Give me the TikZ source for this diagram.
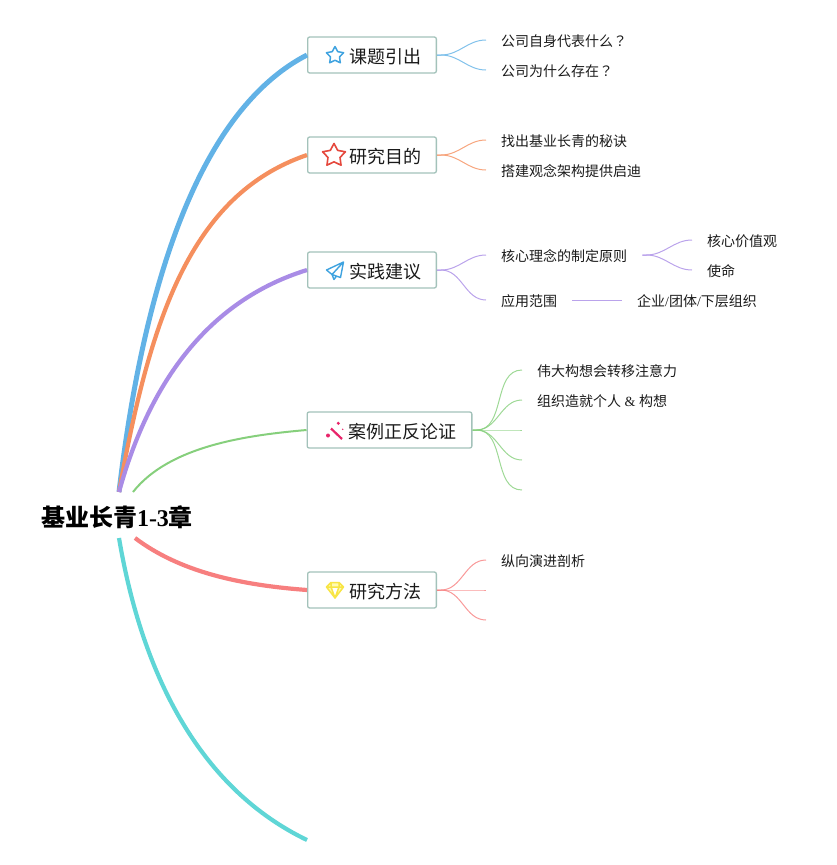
\documentclass[tikz,border=0pt]{standalone}
\usepackage{fontspec}
\setmainfont{Liberation Serif}
\newfontfamily\cjk{Noto Sans CJK SC}
\newfontfamily\cjkmark{Noto Sans CJK TC}
\usetikzlibrary{shapes.geometric}
\definecolor{blueline}{HTML}{62B2E6}
\definecolor{orangeline}{HTML}{F58F5E}
\definecolor{purpleline}{HTML}{A98CE6}
\definecolor{greenline}{HTML}{86CF7C}
\definecolor{redline}{HTML}{F77F7F}
\definecolor{tealline}{HTML}{5FD6D6}
\definecolor{boxline}{HTML}{A3C2BA}
\definecolor{inkcolor}{HTML}{1A1A1A}
\definecolor{iconblue}{HTML}{3FA3E0}
\definecolor{iconred}{HTML}{E5483D}
\definecolor{iconpink}{HTML}{E8256B}
\definecolor{iconyellow}{HTML}{F8E545}
\def\iconspace{26pt}
\tikzset{topicbox/.style={draw=boxline, line width=1.3pt, rounded corners=2pt, fill=white,
    minimum height=36pt, inner xsep=15.35pt, inner ysep=0pt, text=inkcolor,
    text height=20pt, text depth=2.4pt,
    font=\cjk\fontsize{18}{20}\selectfont}}
\tikzset{leafnode/.style={anchor=west, inner xsep=15pt, inner ysep=2pt, text=inkcolor,
    text height=14.6pt, text depth=2pt,
    font=\cjk\fontsize{14}{17}\selectfont}}
\tikzset{mainlink/.style={line width=4.2pt}}
\tikzset{sublink/.style={line width=1pt, opacity=0.8}}
\tikzset{iconstar/.style={star, star points=5, star point ratio=1.9, draw, inner sep=0pt, fill=white, line join=round}}

\begin{document}
\begin{tikzpicture}[x=1pt,y=-1pt]

\path[use as bounding box] (0,0) rectangle (837,865);

\node [inner sep=0pt, font=\bfseries\fontsize{24}{28}\selectfont] (root) at (117,517) {{\cjk 基业长青}1-3{\cjk 章}};
\coordinate (root_top) at (119,492);
\coordinate (root_right) at (133,492);
\coordinate (root_low) at (135,538);
\coordinate (root_bottom) at (119,538);
\coordinate (end_teal) at (307,840);

\node [topicbox] (topic_a) at (372,55) {\hspace*{\iconspace}课题引出};
\node [topicbox] (topic_b) at (372,155) {\hspace*{\iconspace}研究目的};
\node [topicbox] (topic_c) at (372,270) {\hspace*{\iconspace}实践建议};
\node [topicbox] (topic_d) at (389.5,430) {\hspace*{\iconspace}案例正反论证};
\node [topicbox] (topic_e) at (372,590) {\hspace*{\iconspace}研究方法};

\draw[mainlink, tealline] (root_bottom) .. controls (143,680) and (203,790) .. (end_teal);
\draw[mainlink, redline] (root_low) .. controls (180,572) and (240,585) .. (topic_e.west);
\draw[line width=2pt, greenline] (root_right) .. controls (170,445) and (250,435) .. (topic_d.west);
\draw[mainlink, line width=5pt, blueline] (root_top) .. controls (147,255) and (210,105) .. (topic_a.west);
\draw[mainlink, orangeline] (root_top) .. controls (150,320) and (190,195) .. (topic_b.west);
\draw[mainlink, purpleline] (root_top) .. controls (150,380) and (210,300) .. (topic_c.west);

\node [leafnode] (leaf_a1) at (486,40) {公司自身代表什么{\cjkmark ？}};
\node [leafnode] (leaf_a2) at (486,70) {公司为什么存在{\cjkmark ？}};
\node [leafnode] (leaf_b1) at (486,140) {找出基业长青的秘诀};
\node [leafnode] (leaf_b2) at (486,170) {搭建观念架构提供启迪};
\node [leafnode] (leaf_c1) at (486,255) {核心理念的制定原则};
\node [leafnode] (leaf_c2) at (486,300) {应用范围};
\node [leafnode] (leaf_c11) at (692,240) {核心价值观};
\node [leafnode] (leaf_c12) at (692,270) {使命};
\node [leafnode] (leaf_c21) at (622,300) {企业{\rmfamily/}团体{\rmfamily/}下层组织};
\node [leafnode] (leaf_d1) at (522,370) {伟大构想会转移注意力};
\node [leafnode] (leaf_d2) at (522,400) {组织造就个人{\rmfamily\ \&\ }构想};
\coordinate (leaf_d3) at (522,430);
\coordinate (leaf_d4) at (522,460);
\coordinate (leaf_d5) at (522,490);
\node [leafnode] (leaf_e1) at (486,560) {纵向演进剖析};
\coordinate (leaf_e2) at (486,590);
\coordinate (leaf_e3) at (486,620);

\foreach \leaf in {a1,a2}
  \draw[sublink, blueline] (topic_a.east) -- ++(4,0) to[out=0,in=180] (leaf_\leaf.west);
\foreach \leaf in {b1,b2}
  \draw[sublink, orangeline] (topic_b.east) -- ++(4,0) to[out=0,in=180] (leaf_\leaf.west);
\foreach \leaf in {c1,c2}
  \draw[sublink, purpleline] (topic_c.east) -- ++(4,0) to[out=0,in=180] (leaf_\leaf.west);
\foreach \leaf in {c11,c12}
  \draw[sublink, purpleline] (leaf_c1.east) -- ++(4,0) to[out=0,in=180] (leaf_\leaf.west);
\draw[sublink, purpleline] (leaf_c2.east) to (leaf_c21.west);
\foreach \leaf in {d1,d2}
  \draw[sublink, greenline] (topic_d.east) -- ++(4,0) to[out=0,in=180] (leaf_\leaf.west);
\foreach \leaf in {d3,d4,d5}
  \draw[sublink, greenline] (topic_d.east) -- ++(4,0) to[out=0,in=180] (leaf_\leaf);
\draw[sublink, redline] (topic_e.east) -- ++(4,0) to[out=0,in=180] (leaf_e1.west);
\foreach \leaf in {e2,e3}
  \draw[sublink, redline] (topic_e.east) -- ++(4,0) to[out=0,in=180] (leaf_\leaf);

%icons
\node [iconstar, draw=iconblue, line width=1.5pt, minimum size=18pt] (icon_a) at (335,55.5) {};
\node [iconstar, draw=iconred, line width=1.6pt, minimum size=24pt] (icon_b) at (334,155.5) {};

\draw[line width=1.4pt, iconblue, line join=round]
  (343.5,262) -- (326.5,270) -- (332,274.5) -- cycle
  (343.5,262) -- (340.5,277.5) -- (332,274.5) -- (334,279.5) -- (336.5,276);

\draw[line width=2.2pt, iconpink] (331,428.5) -- (342,439);
\fill[iconpink] (338.3,423.3) circle (1.7pt) (328,435.5) circle (2pt) (342.7,429.3) circle (0.8pt);

\draw[line width=1.5pt, iconyellow, fill=yellow!30, line join=round]
  (331,582.5) -- (339,582.5) -- (343.5,587) -- (335,598) -- (326.5,587) -- cycle
  (326.5,587) -- (343.5,587) (331,587) -- (335,598) -- (339,587) (331,582.5) -- (331,587) (339,582.5) -- (339,587);

\end{tikzpicture}
\end{document}
